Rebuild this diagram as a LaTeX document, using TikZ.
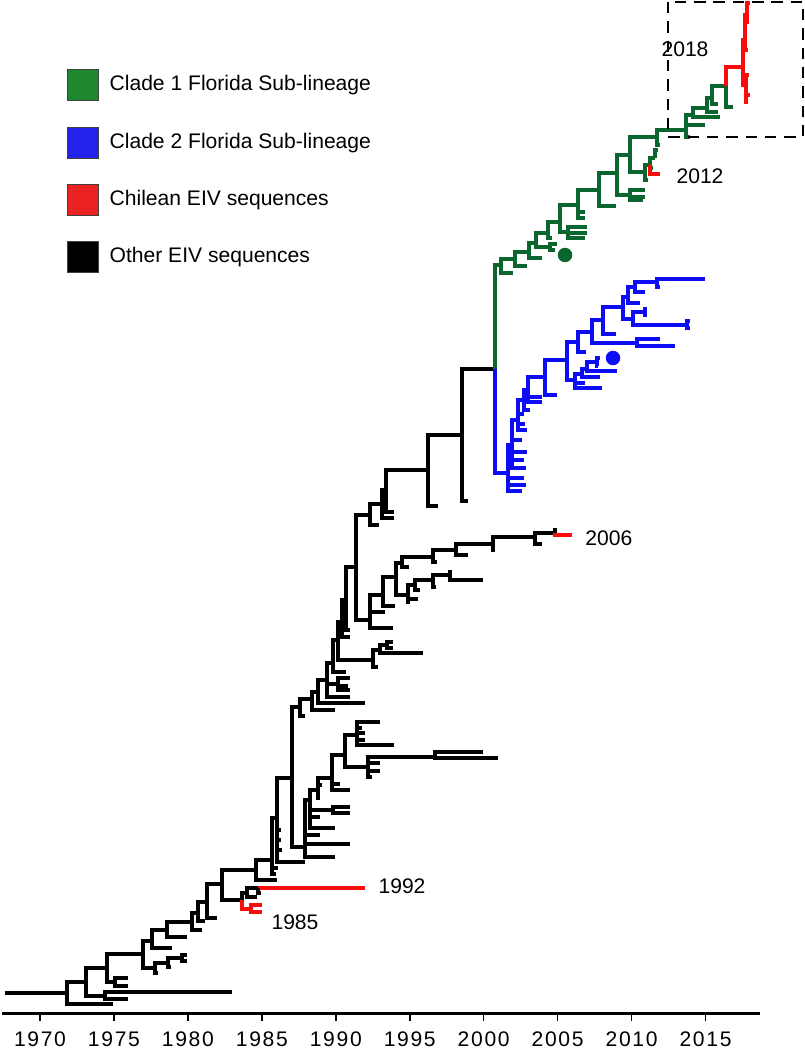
\documentclass[tikz,border=0pt]{standalone}
\usepackage{fontspec}
\setmainfont{Liberation Sans}
\newfontfamily\axisfont[LetterSpace=8]{Liberation Sans}
\usetikzlibrary{positioning}
\definecolor{CladeOne}{RGB}{10,102,46}
\definecolor{CladeTwo}{RGB}{12,12,245}
\definecolor{Chile}{RGB}{250,12,12}
\definecolor{CladeOneKey}{RGB}{30,136,48}
\definecolor{CladeTwoKey}{RGB}{34,34,235}
\definecolor{ChileKey}{RGB}{235,34,34}

% one internal node: elbow from (x,y) of the node to each child x/y
\newcommand{\clade}[4][black]{%
  \foreach \cx/\cy in {#4} {\draw[branch,#1] (#2,#3) |- (\cx,\cy);}}

\begin{document}
\begin{tikzpicture}[
  x=0.02cm, y=-0.02cm,
  every node/.style={font=\fontsize{12}{14}\selectfont},
  branch/.style={line width=2pt},
  legbox/.style={draw=black!75, line width=0.6pt, minimum size=0.63cm, inner sep=0pt},
  legtext/.style={inner sep=0pt, anchor=west},
  yearlabel/.style={font=\axisfont\fontsize{12}{14}\selectfont, inner sep=0pt},
  tiplabel/.style={inner sep=0pt},
  dot/.style={circle, inner sep=0pt, minimum size=0.29cm}
]
\useasboundingbox (0,0) rectangle (804,1050);

% legend
\node[legbox, fill=CladeOneKey] (k1) at (83,85) {};
\node[legbox, fill=CladeTwoKey] (k2) at (83,143) {};
\node[legbox, fill=ChileKey]    (k3) at (83,200) {};
\node[legbox, fill=black]       (k4) at (83,257) {};
\node[legtext, right=0.2cm of k1] (t1) {Clade 1 Florida Sub-lineage};
\node[legtext, right=0.2cm of k2] (t2) {Clade 2 Florida Sub-lineage};
\node[legtext, right=0.2cm of k3] (t3) {Chilean EIV sequences};
\node[legtext, right=0.2cm of k4] (t4) {Other EIV sequences};

% root and early lineages
\draw[branch] (5,993) -- (67,993);
\clade{67}{993}{86/982, 113/1004}
\clade{86}{982}{107/968, 105/996}
\clade{105}{996}{232/992, 128/999}
\clade{107}{968}{143/954, 115/982}
\clade{115}{982}{128/978, 128/986}
\clade{143}{954}{152/941, 155/968}
\clade{155}{968}{158/973, 168/963}
\clade{168}{963}{171/967, 182/958}
\clade{182}{958}{187/955, 187/961}
\clade{152}{941}{167/930, 172/948}
\clade{167}{930}{192/922, 187/937}
\clade{192}{922}{198/913, 202/930}
\clade{198}{913}{207/902, 205/921}
\clade{207}{902}{222/884, 217/918}
\clade{222}{884}{256/870, 242/900}
\clade{242}{900}{247/893}
\clade[Chile]{242}{900}{251/909}
\clade[Chile]{251}{909}{262/905, 262/912}
\clade{247}{893}{258/888, 257/897}
\clade[Chile]{258}{888}{365/888}
\clade{258}{888}{261/893}
\clade{256}{870}{272/860, 277/880}

% late 1980s comb
\clade{272}{860}{277/818, 276/874, 278/868}
\clade{277}{818}{292/778, 305/862, 281/830, 281/840, 282/850}
\clade{292}{778}{300/707, 305/847}
\clade{305}{847}{310/800, 335/857, 350/844, 320/835}
\clade{310}{800}{318/790, 335/828, 320/817, 333/810}
\clade{333}{810}{350/807, 350/813}
\clade{318}{790}{332/778, 320/798, 322/785}
\clade{332}{778}{345/755, 350/790, 340/784}
\clade{345}{755}{357/735, 368/767}
\clade{368}{767}{435/757, 380/763, 380/771, 372/777}
\clade{435}{757}{483/752, 498/758}
\clade{357}{735}{380/722, 394/745, 362/728, 365/733, 365/740}

% backbone towards the 2000s
\clade{300}{707}{312/699, 305/716}
\clade{312}{699}{318/692, 335/710}
\clade{318}{692}{327/680, 365/703}
\clade{327}{680}{333/663, 338/684, 350/697}
\clade{338}{684}{350/678, 348/686, 350/690}
\clade{333}{663}{338/640, 346/672}
\clade{338}{640}{342/622, 373/660}
\clade{373}{660}{380/650, 378/667}
\clade{380}{650}{387/645, 423/653}
\clade{387}{645}{393/642, 393/648}
\clade{342}{622}{346/600, 350/637}
\clade{346}{600}{356/567, 350/630, 348/612}
\clade{356}{567}{370/515, 370/620}

% 2006 lineage
\clade{370}{620}{383/595, 393/628, 385/612}
\clade{383}{595}{396/577, 395/606}
\clade{396}{577}{402/563, 408/595}
\clade{402}{563}{433/557, 409/567}
\clade{433}{557}{456/550, 437/562}
\clade{456}{550}{493/544, 468/555}
\clade{493}{544}{535/537, 495/550}
\clade{535}{537}{555/533, 542/544}
\clade{555}{533}{557/530}
\clade[Chile]{555}{533}{572/535}
\clade{408}{595}{415/585, 410/602, 418/599}
\clade{415}{585}{433/580, 420/590}
\clade{433}{580}{450/575, 436/587}
\clade{450}{575}{483/580, 452/572}

% Florida sub-lineage ancestors
\clade{370}{515}{382/504, 379/525}
\clade{382}{504}{386/490, 394/518}
\clade{386}{490}{428/470, 394/512}
\clade{428}{470}{462/435, 438/506}
\clade{462}{435}{495/369, 468/501}
\clade[CladeOne]{495}{369}{501/265}
\clade[CladeTwo]{495}{369}{508/473}

% clade 2
\clade[CladeTwo]{508}{473}{512/445, 522/491, 526/485, 524/478}
\clade[CladeTwo]{512}{445}{518/420, 526/468, 524/460, 527/452, 522/440}
\clade[CladeTwo]{518}{420}{524/400, 527/430, 525/424, 524/414}
\clade[CladeTwo]{524}{400}{528/390, 530/410}
\clade[CladeTwo]{528}{390}{545/377, 542/402, 542/397}
\clade[CladeTwo]{545}{377}{567/360, 557/395}
\clade[CladeTwo]{567}{360}{578/342, 575/380}
\clade[CladeTwo]{575}{380}{582/374, 602/388, 585/383}
\clade[CladeTwo]{582}{374}{587/369, 600/377}
\clade[CladeTwo]{587}{369}{617/371, 597/362}
\clade[CladeTwo]{597}{362}{600/358, 598/366}
\clade[CladeTwo]{578}{342}{592/332, 586/352}
\clade[CladeTwo]{592}{332}{603/320, 637/343}
\clade[CladeTwo]{637}{343}{660/339, 675/346}
\clade[CladeTwo]{603}{320}{623/307, 616/334}
\clade[CladeTwo]{623}{307}{628/297, 633/319}
\clade[CladeTwo]{633}{319}{687/325, 645/312}
\clade[CladeTwo]{687}{325}{690/321, 690/328}
\clade[CladeTwo]{645}{312}{647/309, 647/315}
\clade[CladeTwo]{628}{297}{635/287, 640/303}
\clade[CladeTwo]{635}{287}{657/282, 645/292}
\clade[CladeTwo]{657}{282}{705/279, 660/287}
\node[dot, fill=CladeTwo] (d2) at (613,358) {};

% clade 1
\clade[CladeOne]{501}{265}{515/259, 513/273}
\clade[CladeOne]{515}{259}{529/252, 527/266}
\clade[CladeOne]{529}{252}{536/243, 542/258}
\clade[CladeOne]{536}{243}{548/233, 550/247}
\clade[CladeOne]{550}{247}{557/244, 555/250}
\clade[CladeOne]{548}{233}{560/222, 552/238}
\clade[CladeOne]{560}{222}{578/205, 568/232}
\clade[CladeOne]{568}{232}{587/227, 587/233, 585/238}
\clade[CladeOne]{578}{205}{599/190, 585/212, 585/218}
\clade[CladeOne]{599}{190}{617/173, 616/206}
\clade[CladeOne]{617}{173}{630/155, 630/195}
\clade[CladeOne]{630}{195}{645/190, 645/197, 643/200}
\clade[CladeOne]{630}{155}{657/137, 645/172}
\clade[CladeOne]{645}{172}{650/165, 648/180}
\clade[CladeOne]{650}{165}{655/158, 653/168}
\clade[Chile]{650}{165}{660/174}
\clade[CladeOne]{655}{158}{658/150, 657/155}
\clade[CladeOne]{657}{137}{686/130, 660/145}
\clade[CladeOne]{686}{130}{693/115, 705/125, 690/137}
\clade[CladeOne]{693}{115}{707/108, 720/117}
\clade[CladeOne]{707}{108}{712/98, 718/112}
\clade[CladeOne]{712}{98}{726/86, 718/104}
\clade[CladeOne]{726}{86}{733/107}
\clade[Chile]{726}{86}{743/67}
\clade[Chile]{743}{67}{745/40, 746/85}
\clade[Chile]{745}{40}{747/15, 748/50, 746/30}
\clade[Chile]{747}{15}{750/3, 749/22}
\clade[Chile]{746}{85}{749/75, 750/95, 748/102}
\node[dot, fill=CladeOne] (d1) at (565,255) {};

% Chilean outbreak box and dates
\draw[line width=1.1pt, dash pattern=on 6.5pt off 4.5pt] (668,2) rectangle (803,137);
\node[tiplabel] (l2018) at (685,49) {2018};
\node[tiplabel] (l2012) at (700,176) {2012};
\node[tiplabel, anchor=west] (l2006) at (585,538) {2006};
\node[tiplabel] (l1992) at (402,886) {1992};
\node[tiplabel] (l1985) at (295,922) {1985};

% time axis
\draw[line width=1.7pt] (2,1013) -- (760,1013);
\foreach \yr in {1970,1975,...,2015} {
  \pgfmathsetmacro{\px}{40+(\yr-1970)*14.79}
  \draw[line width=0.9pt] (\px,1013) -- (\px,1021);
  \node[yearlabel] (yr\yr) at (\px,1039) {\yr};
}
\end{tikzpicture}
\end{document}
